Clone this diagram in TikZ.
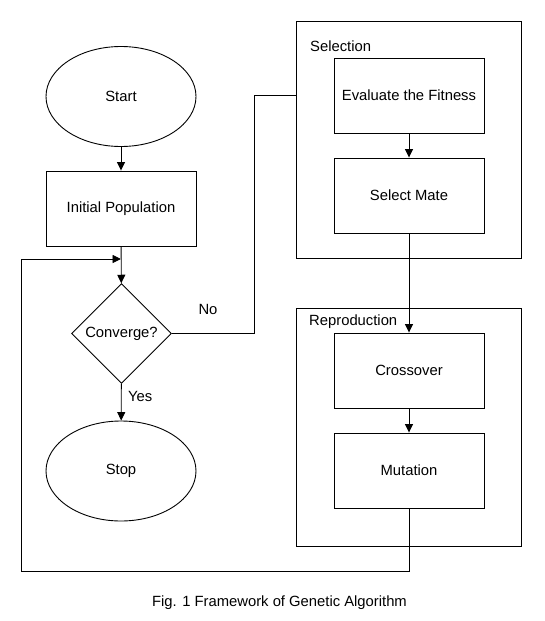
\documentclass[tikz,border=0pt]{standalone}
\usepackage{fontspec}
\setmainfont{Liberation Sans}
\usetikzlibrary{arrows.meta,shapes.geometric,calc}

\begin{document}
\begin{tikzpicture}[x=1pt,y=-1pt,
	every node/.style={font=\fontsize{14.8}{17}\selectfont},
	linea/.style={line width=.9pt, black},
	flecha/.style={linea, -{Triangle[length=8.5pt,width=8pt]}},
	caja/.style={draw, linea, rectangle, minimum width=150pt, minimum height=75pt, inner sep=1pt},
	elipse/.style={draw, linea, ellipse, minimum width=150pt, minimum height=100pt, inner sep=1pt},
	rombo/.style={draw, linea, diamond, aspect=1, minimum size=100pt, inner sep=0pt},
	grupo/.style={draw, linea, rectangle, minimum width=225pt, inner sep=0pt}]
\useasboundingbox (0,0) rectangle (544,621);

%%%%%%%%%%%%%%%%%%%%%%%%%%%%%%%%%%%%%%%%%%%%%%%% 	GRUPOS
\node[grupo, minimum height=237pt] (sel) at (408.5,139.5) {};		%%%%	Selection
\node[grupo, minimum height=238pt] (rep) at (408.5,427) {};		%%%%	Reproduction
\node[anchor=west, inner sep=0pt] (selt) at (310,46.5) {Selection};
\node[anchor=west, inner sep=0pt] (rept) at (309,321.5) {Reproduction};

%%%%%%%%%%%%%%%%%%%%%%%%%%%%%%%%%%%%%%%%%%%%%%%% 	COLUMNA IZQUIERDA
\node[elipse] (start) at (121,96.5) {Start};
\node[caja] (init) at (121,208.5) {Initial Population};
\node[rombo] (conv) at (121.5,333.5) {Converge?};
\node[elipse] (stop) at (121,471) {Stop};

%%%%%%%%%%%%%%%%%%%%%%%%%%%%%%%%%%%%%%%%%%%%%%%% 	COLUMNA DERECHA
\node[caja] (eval) at (409,95.5) {Evaluate the Fitness};
\node[caja] (mate) at (409,195.5) {Select Mate};
\node[caja] (cross) at (409,370.5) {Crossover};
\node[caja] (mut) at (409,470.5) {Mutation};

%%%%%%%%%%%%%%%%%%%%%%%%%%%%%%%%%%%%%%%%%%%%%%%% 	FLECHAS
\draw[flecha] (start) -- (init);
\draw[flecha] (init) -- (conv);
\draw[flecha] (conv) -- (stop);
\node[anchor=west, inner sep=0pt] (yes) at (128,396) {Yes};
\draw[linea] (conv.east) -- ++(82,0) |- (eval -| sel.west);	%%%%	No
\node (no) at (208,309) {No};
\draw[flecha] (eval) -- (mate);
\draw[flecha] (mate) -- (cross);
\draw[flecha] (cross) -- (mut);

%%%%%%%%%%%%%%%%%%%%%%%%%%%%%%%%%%%%%%%%%%%%%%%% 	LAZO
\coordinate (abajo) at (21,571);
\coordinate (entra) at (121,259);
\draw[flecha] (mut.south) |- (abajo) |- (entra);

\node (cap) at (279.5,603) {Fig. 1 Framework of Genetic Algorithm};
\end{tikzpicture}
\end{document}
